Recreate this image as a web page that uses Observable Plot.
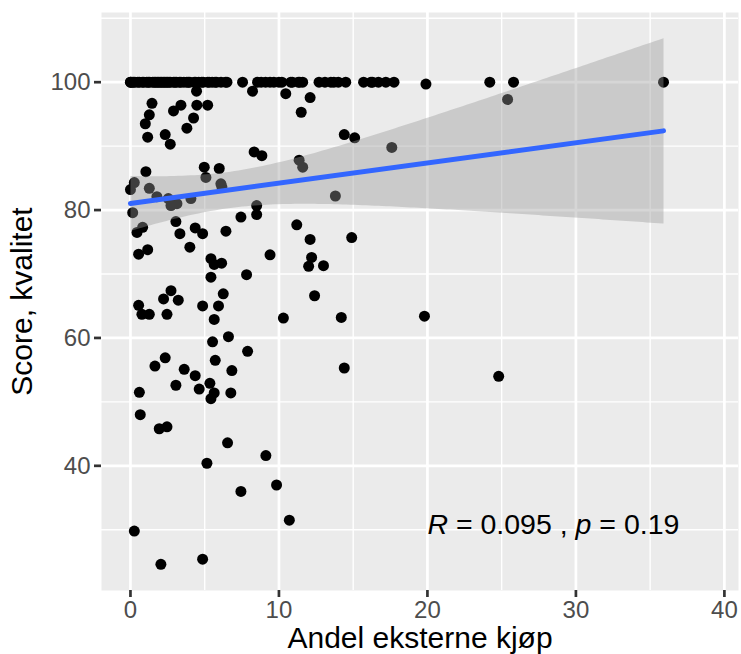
<!DOCTYPE html>
<html><head><meta charset="utf-8">
<script src="https://cdn.jsdelivr.net/npm/d3@7"></script>
<script src="https://cdn.jsdelivr.net/npm/@observablehq/plot@0.6"></script>
<style>
body{margin:0;background:#fff}
svg{font-family:"Liberation Sans",Arial,Helvetica,sans-serif}
</style>
</head><body><div id="chart"></div>
<script>
// Andel eksterne kjøp (%) per unit
const andel = [
  0,0,0.1,0.2,0.3,0.5,0.6,0.8,0.9,1.1,1.3,1.5,1.7,1.9,2.1,2.3,2.5,2.7,2.9,3.1,3.3,3.6,3.8,4.0,4.3,4.6,4.9,5.2,5.5,5.8,6.1,6.5,
  7.55,8.56,9.1,9.66,10.2,10.8,11.3,11.6,12.7,13.1,13.5,14.0,14.5,15.7,16.2,16.7,17.2,17.75,24.2,25.8,35.9,
  1.2,2.0,1.6,2.4,1.8,2.2,2.6,3.0,3.4,3.9,4.4,4.8,5.3,5.7,6.4,8.8,9.4,10.0,10.9,11.4,13.7,16.3,
  19.9,25.4,
  4.45,1.45,1.27,1.0,1.16,3.4,2.9,4.47,5.2,4.25,3.8,2.34,2.68,8.22,10.46,11.5,8.33,8.85,12.1,14.4,
  15.1,17.6,11.36,11.6,13.8,11.2,12.1,14.9,12.2,12.0,13.0,12.4,10.3,14.2,19.8,14.4,24.8,
  0.6,0.66,1.94,2.46,3.06,4.36,5.35,5.64,5.42,4.63,6.76,6.54,9.12,5.15,7.44,9.84,10.7,0.26,2.05,4.86,
  0.15,0.44,0.82,0.55,1.16,3.06,3.33,4.36,4.86,4.0,6.43,7.44,8.5,8.5,9.4,5.42,5.64,6.14,5.42,7.82,
  6.25,2.73,2.23,3.22,0.55,0.77,1.27,2.46,4.86,5.93,5.64,5.53,6.6,7.89,5.71,2.34,1.65,3.62,6.83,
  1.04,0.26,0,1.27,1.78,2.55,2.73,3.13,4.07,4.97,5.98,5.08,6.09,6.16
];
// Score, kvalitet per unit (same order)
const score = [
  100,100,100,100,100,100,100,100,100,100,100,100,100,100,100,100,100,100,100,100,100,100,100,100,100,100,100,100,100,100,100,100,
  100,100,100,100,100,100,100,100,100,100,100,100,100,100,100,100,100,100,100,100,100,
  100,100,100,100,100,100,100,100,100,100,100,100,100,100,100,100,100,100,100,100,100,100,
  99.7,97.3,
  98.6,96.7,94.9,93.5,91.4,96.4,95.5,96.4,96.4,94.4,92.8,91.8,90.3,98.6,98.2,95.3,89.1,88.5,97.6,91.8,
  91.3,89.8,87.8,86.7,82.2,77.7,75.4,75.7,72.6,71.2,71.3,66.6,63.1,63.2,63.4,55.3,54.0,
  51.5,48.0,45.8,46.1,52.6,54.1,52.9,51.4,50.5,52.0,51.4,43.6,41.6,40.4,36.0,37.0,31.5,29.8,24.6,25.4,
  79.6,76.5,77.3,73.1,73.8,78.2,76.3,77.2,76.3,74.2,76.7,78.9,80.7,79.3,73.0,72.4,71.5,71.7,69.5,69.9,
  66.9,67.4,66.1,65.9,65.1,63.7,63.7,63.7,65.0,65.0,62.9,59.4,60.2,57.9,56.5,56.9,55.6,55.1,54.9,
  86.0,84.3,83.2,83.4,82.1,81.8,80.7,81.0,81.8,86.7,86.5,85.1,84.1,83.6
];
const xMajor = [0, 10, 20, 30, 40];
const xMinor = [5, 15, 25, 35];
const yMajor = [40, 60, 80, 100];
const yMinor = [30, 50, 70, 90, 110];
const xTitle = "Andel eksterne kjøp";
const yTitle = "Score, kvalitet";
const corParts = [["R", true], [" = 0.095 , ", false], ["p", true], [" = 0.19", false]];
const corAt = [{x: 20, y: 30.7}];

const data = andel.map((x, i) => ({x, y: score[i]}));
const corText = corParts.map(d => d[0]).join("");

const chart = Plot.plot({
  width: 741, height: 654,
  marginLeft: 101, marginRight: 3, marginTop: 12, marginBottom: 64,
  x: {domain: [-1.95, 40.95]},
  y: {domain: [20.5, 110.9]},
  style: {fontFamily: '"Liberation Sans", Arial, sans-serif', background: "white"},
  marks: [
    Plot.frame({fill: "#EBEBEB", stroke: "none"}),
    Plot.ruleX(xMinor, {stroke: "white", strokeWidth: 1.4}),
    Plot.ruleY(yMinor, {stroke: "white", strokeWidth: 1.4}),
    Plot.ruleX(xMajor, {stroke: "white", strokeWidth: 2.7}),
    Plot.ruleY(yMajor, {stroke: "white", strokeWidth: 2.7}),
    Plot.dot(data, {x: "x", y: "y", r: 5.5, fill: "black", stroke: "none"}),
    Plot.linearRegressionY(data, {x: "x", y: "y", stroke: "#3366FF", strokeWidth: 5, fill: "#999999", fillOpacity: 0.4, ci: 0.95}),
    Plot.axisX(xMajor, {tickSize: 7, tickPadding: 3, fontSize: 24, stroke: "#333333", strokeWidth: 2.7, fill: "#4D4D4D", label: null}),
    Plot.axisY(yMajor, {tickSize: 7, tickPadding: 4, fontSize: 24, stroke: "#333333", strokeWidth: 2.7, fill: "#4D4D4D", label: null}),
    Plot.text([xTitle], {frameAnchor: "bottom", dy: 48, lineAnchor: "middle", textAnchor: "middle", fontSize: 30, fill: "black"}),
    Plot.text([yTitle], {frameAnchor: "left", dx: -79, rotate: -90, lineAnchor: "middle", textAnchor: "middle", fontSize: 30, fill: "black"}),
    Plot.text(corAt, {x: "x", y: "y", text: () => corText, textAnchor: "start", fontSize: 28.5, fill: "black"})
  ]
});
document.getElementById("chart").appendChild(chart);

// italicise R and p in the correlation label
d3.select(chart).selectAll("text").each(function() {
  if (this.textContent === corText) {
    const t = d3.select(this);
    t.text(null);
    corParts.forEach(([s, it]) => {
      const sp = t.append("tspan").text(s);
      if (it) sp.attr("font-style", "italic");
    });
  }
});
</script>
</body></html>
